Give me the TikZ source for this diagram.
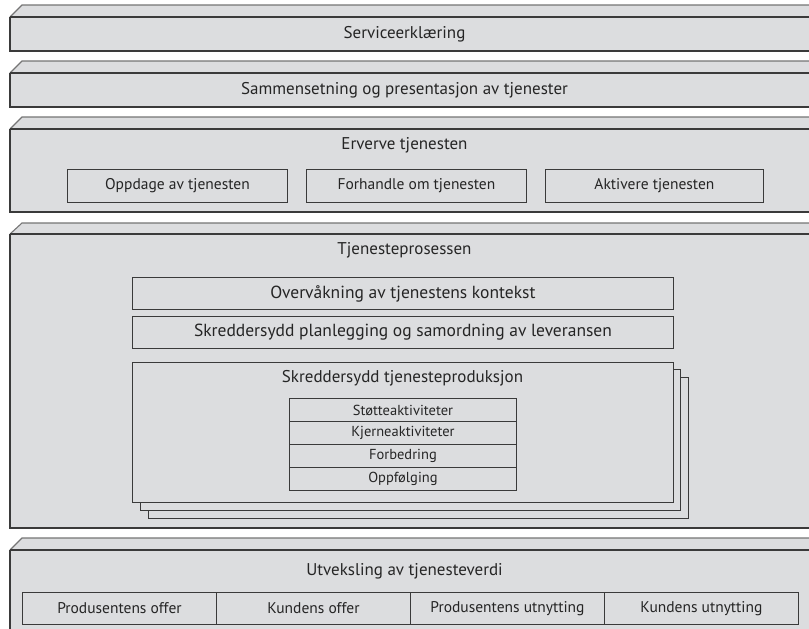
\documentclass[tikz,border=0pt]{standalone}
\usepackage{fontspec}
\setmainfont{PT Sans}
\definecolor{panel}{HTML}{DCDDDF}
\definecolor{edge}{HTML}{3A3A3A}
\definecolor{ink}{HTML}{252525}
% A slab with a bevelled top-left corner: #1 back top, #2 front top, #3 bottom
\newcommand\slab[3]{%
  \fill[panel] (10,#2) -- (22,#1) -- (830,#1) -- (830,#3) -- (10,#3) -- cycle;
  \draw[slabline, draw=edge!70] (830,#1) -- (22,#1) -- (10,#2);
  \draw[slabline] (10,#2) -- (830,#2);
  \draw[slabline] (10,#2) -- (10,#3) -- (830,#3);
}
\begin{document}
\begin{tikzpicture}[x=1pt,y=-1pt,
  slabline/.style={draw=edge, line width=1.1pt, line join=miter},
  cell/.style={draw=edge, line width=0.9pt, fill=panel, inner sep=0pt,
    text=ink, anchor=north west, font=\fontsize{15.5}{17}\selectfont},
  smallcell/.style={cell, font=\fontsize{14.5}{16}\selectfont},
  widecell/.style={cell, font=\fontsize{17.5}{19}\selectfont},
  heading/.style={text=ink, inner sep=0pt, font=\fontsize{17}{19}\selectfont}]
\useasboundingbox (0,0) rectangle (809,629);
\clip (0,0) rectangle (809,629);

% Service declaration
\slab{5}{17}{51}
\node[heading] (decl) at (404.5,34) {Serviceerklæring};

% Composition and presentation
\slab{61}{73}{107}
\node[heading] (comp) at (404.5,90) {Sammensetning og presentasjon av tjenester};

% Acquiring the service
\slab{117}{129}{212}
\node[heading] (acq) at (404.5,145) {Erverve tjenesten};
\node[cell, minimum width=220pt, minimum height=33pt] (disc) at (67,169) {Oppdage av tjenesten};
\node[cell, minimum width=220pt, minimum height=33pt] (nego) at (306,169) {Forhandle om tjenesten};
\node[cell, minimum width=218pt, minimum height=33pt] (activ) at (545,169) {Aktivere tjenesten};

% Service process
\slab{223}{234}{528}
\node[heading] (proc) at (404.5,250) {Tjenesteprosessen};
\node[widecell, minimum width=541pt, minimum height=32pt] (monit) at (132,277) {Overvåkning av tjenestens kontekst};
\node[widecell, minimum width=541pt, minimum height=32pt] (plan) at (132,316) {Skreddersydd planlegging og samordning av leveransen};

% Stacked production sheets
\node[cell, minimum width=540pt, minimum height=141pt] (prod3) at (148,377) {};
\node[cell, minimum width=540pt, minimum height=141pt] (prod2) at (140,369) {};
\node[cell, minimum width=541pt, minimum height=140pt] (prod) at (132,362) {};
\node[heading] (prodtitle) at (402.5,378) {Skreddersydd tjenesteproduksjon};
\node[smallcell, minimum width=227pt, minimum height=23pt] (supp) at (289,398) {Støtteaktiviteter};
\node[smallcell, minimum width=227pt, minimum height=23pt] (core) at (289,421) {Kjerneaktiviteter};
\node[smallcell, minimum width=227pt, minimum height=23pt] (impr) at (289,444) {Forbedring};
\node[smallcell, minimum width=227pt, minimum height=23pt] (foll) at (289,467) {Oppfølging};

% Exchange of service value
\slab{538}{550}{660}
\node[heading] (exch) at (404.5,571) {Utveksling av tjenesteverdi};
\node[cell, minimum width=194pt, minimum height=32pt] (psac) at (22,592) {Produsentens offer};
\node[cell, minimum width=194pt, minimum height=32pt] (csac) at (216,592) {Kundens offer};
\node[cell, minimum width=194pt, minimum height=32pt] (puse) at (410,592) {Produsentens utnytting};
\node[cell, minimum width=194pt, minimum height=32pt] (cuse) at (604,592) {Kundens utnytting};
\end{tikzpicture}
\end{document}
